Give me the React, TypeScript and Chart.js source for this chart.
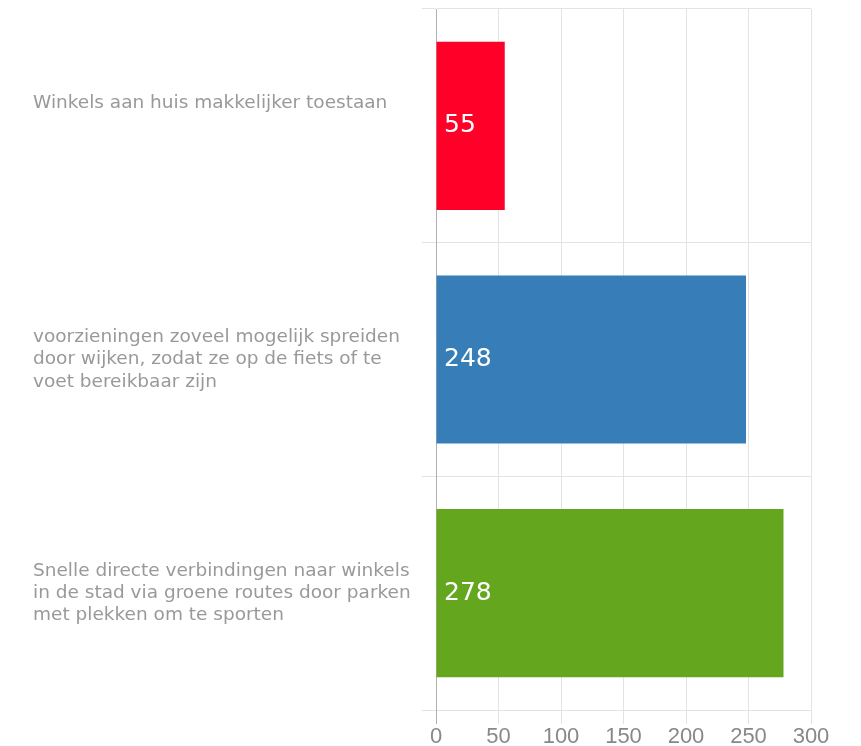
import React, { useEffect, useRef } from "react";
import { Chart, registerables } from "chart.js";

Chart.register(...registerables);

const categories: (string | string[])[] = [
  ["Winkels aan huis makkelijker toestaan", "", ""],
  ["voorzieningen zoveel mogelijk spreiden", "door wijken, zodat ze op de fiets of te", "voet bereikbaar zijn"],
  ["Snelle directe verbindingen naar winkels", "in de stad via groene routes door parken", "met plekken om te sporten"],
];
const values: number[] = [55, 248, 278];
const barColors: string[] = ["#FF0029", "#377EB8", "#65A61F"];
const xTicks = { min: 0, max: 300, step: 50 };

const valueLabels = {
  id: "valueLabels",
  afterDatasetsDraw(chart: any) {
    const ctx = chart.ctx;
    const meta = chart.getDatasetMeta(0);
    const x0 = chart.scales.x.getPixelForValue(0);
    ctx.save();
    ctx.font = '25px "DejaVu Sans"';
    ctx.fillStyle = "#ffffff";
    ctx.textAlign = "left";
    ctx.textBaseline = "middle";
    meta.data.forEach((el: any, i: number) => {
      ctx.fillText(String(values[i]), x0 + 8, el.y);
    });
    ctx.restore();
  },
};

export default function App() {
  const ref = useRef<HTMLCanvasElement>(null);
  useEffect(() => {
    if (!ref.current) return;
    const chart = new Chart(ref.current, {
      type: "bar",
      data: {
        labels: categories,
        datasets: [
          {
            data: values,
            backgroundColor: barColors,
            borderWidth: 0,
          },
        ],
      },
      options: {
        indexAxis: "y",
        responsive: false,
        animation: false,
        layout: { padding: { top: 1, left: 25, right: 42, bottom: 0 } },
        plugins: {
          legend: { display: false },
          tooltip: { enabled: false },
        },
        scales: {
          x: {
            min: xTicks.min,
            max: xTicks.max,
            ticks: {
              stepSize: xTicks.step,
              color: "#888888",
              font: { family: '"Liberation Sans", Arial, sans-serif', size: 22 },
              padding: 0,
            },
            grid: {
              color: (c: any) => (c.index === 0 ? "#b0b0b0" : "#e3e3e3"),
              tickLength: 14,
            },
            border: { color: "#e3e3e3" },
            afterFit: (s: any) => {
              s.height = 40;
              s.paddingLeft = 0;
            },
          },
          y: {
            ticks: {
              crossAlign: "far",
              color: "#999999",
              font: { family: '"DejaVu Sans", Verdana, sans-serif', size: 18.5, lineHeight: 1.2 },
            },
            grid: {
              color: "#e3e3e3",
              tickLength: 14,
              offset: true,
            },
            border: { color: "#b0b0b0" },
            afterFit: (s: any) => {
              s.width = 403;
              s.paddingTop = 0;
              s.paddingBottom = 0;
            },
          },
        },
      },
      plugins: [valueLabels],
    });
    return () => chart.destroy();
  }, []);
  return <canvas ref={ref} width={845} height={742} />;
}
